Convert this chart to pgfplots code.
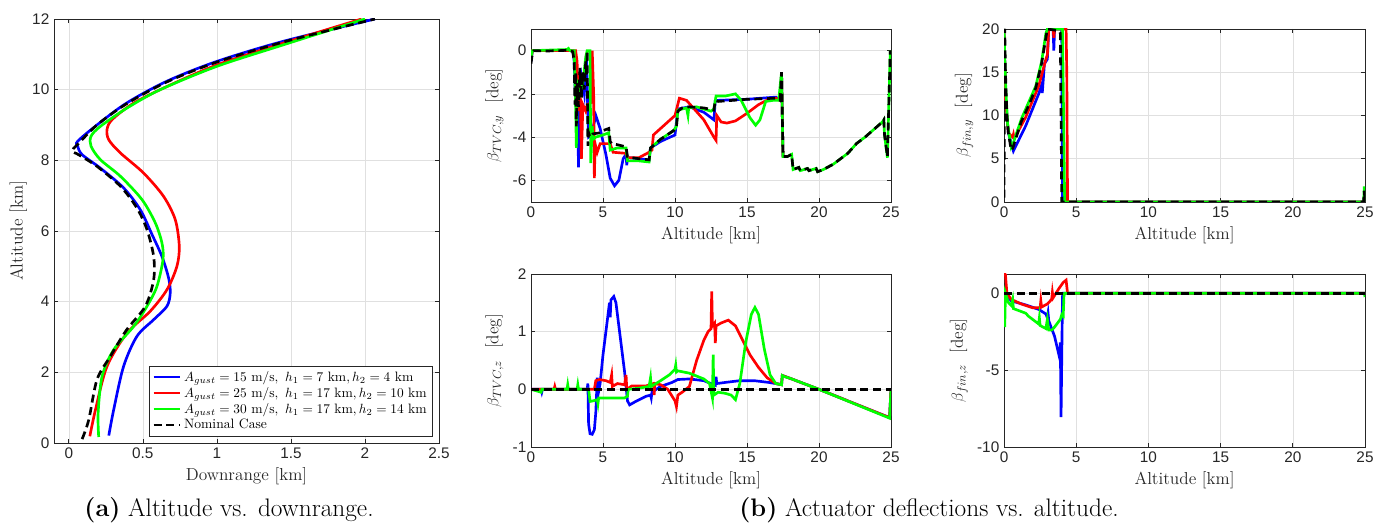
\documentclass[border=0pt]{standalone}
\usepackage{fontspec}
\usepackage{pgfplots}
\pgfplotsset{compat=1.18}
\newfontfamily\ticksf{Liberation Sans}
\definecolor{axgray}{gray}{0.15}
\definecolor{mblue}{RGB}{0,0,255}
\definecolor{mred}{RGB}{255,0,0}
\definecolor{mgreen}{RGB}{0,255,0}
\pgfplotsset{
  mstyle/.style={
    scale only axis,
    axis line style={axgray, line width=0.5pt},
    tick style={axgray, line width=0.5pt},
    major tick length=3pt,
    grid=major,
    major grid style={black!12, line width=0.4pt},
    tick label style={font=\ticksf\fontsize{11.5}{13}\selectfont, text=axgray},
    /pgf/number format/assume math mode=true,
    label style={font=\fontsize{13}{15}\selectfont, text=axgray},
  },
  bl/.style={mblue, line width=2pt},
  rd/.style={mred, line width=2pt},
  gr/.style={mgreen, line width=2pt},
  nm/.style={black, line width=2pt, dash pattern=on 6pt off 3.5pt},
}
\begin{document}
\begin{tikzpicture}
\useasboundingbox (0,0) rectangle (1387*0.75pt,530*0.75pt);

% ---------------- (a) ----------------
\begin{axis}[mstyle, at={(54*0.75pt,87*0.75pt)}, anchor=south west,
  width=385*0.75pt, height=424*0.75pt,
  xmin=-0.1, xmax=2.5, ymin=0, ymax=12,
  xtick={0,0.5,1,1.5,2,2.5}, ytick={0,2,...,12},
  xlabel={Downrange [km]}, ylabel={Altitude [km]},
  ylabel style={yshift=-3pt},
  legend style={at={(1,0)}, anchor=south east, xshift=-5pt, yshift=5pt,
    font=\fontsize{10.2}{12}\selectfont, draw=axgray, fill=white,
    cells={anchor=west}, inner sep=2pt, row sep=-1pt},
  legend image code/.code={\draw[#1] (0cm,0cm) -- (0.7cm,0cm);},
]
\addplot[bl, smooth] coordinates {
(0.27,0.21) (0.303,0.94) (0.37,2.17) (0.46,3.02) (0.573,3.49) (0.663,3.87) (0.685,4.25) (0.674,4.67) (0.629,5.28) (0.562,5.9) (0.483,6.6) (0.37,7.22) (0.213,7.78) (0.09,8.16) (0.06,8.4) (0.06,8.54) (0.19,9.0) (0.39,9.62) (0.663,10.24) (1.0,10.8) (1.45,11.37) (2.067,12)};
\addlegendentry{$A_{gust}=15~\mathrm{m/s},\ h_1=7~\mathrm{km}, h_2=4~\mathrm{km}$}
\addplot[rd, smooth] coordinates {
(0.142,0.19) (0.18,0.94) (0.258,2.17) (0.393,3.11) (0.55,3.73) (0.663,4.34) (0.73,5.0) (0.746,5.57) (0.719,6.32) (0.64,6.98) (0.505,7.64) (0.348,8.21) (0.27,8.58) (0.258,8.87) (0.292,9.15) (0.438,9.62) (0.663,10.09) (1.0,10.7) (1.45,11.32) (1.977,12)};
\addlegendentry{$A_{gust}=25~\mathrm{m/s},\ h_1=17~\mathrm{km}, h_2=10~\mathrm{km}$}
\addplot[gr, smooth] coordinates {
(0.202,0.17) (0.198,0.85) (0.225,1.89) (0.303,2.64) (0.438,3.3) (0.528,3.87) (0.595,4.43) (0.636,5.19) (0.629,5.66) (0.584,6.23) (0.494,6.89) (0.348,7.55) (0.213,8.02) (0.15,8.4) (0.15,8.68) (0.213,8.96) (0.393,9.48) (0.618,10.0) (1.0,10.66) (1.45,11.27) (2.0,12)};
\addlegendentry{$A_{gust}=30~\mathrm{m/s},\ h_1=17~\mathrm{km}, h_2=14~\mathrm{km}$}
\addplot[nm, smooth] coordinates {
(0.09,0.11) (0.135,0.66) (0.19,1.79) (0.28,2.45) (0.39,3.2) (0.517,3.87) (0.573,4.62) (0.573,5.28) (0.528,6.04) (0.46,6.65) (0.35,7.26) (0.19,7.83) (0.07,8.15) (0.022,8.27) (0.06,8.45) (0.19,9.0) (0.39,9.6) (0.663,10.22) (1.0,10.78) (1.45,11.35) (2.067,12)};
\addlegendentry{Nominal Case}
\end{axis}

% ---------------- TVC,y ----------------
\begin{axis}[mstyle, at={(531*0.75pt,328*0.75pt)}, anchor=south west,
  width=360*0.75pt, height=173*0.75pt,
  xmin=0, xmax=25, ymin=-7, ymax=1,
  xtick={0,5,...,25}, ytick={-6,-4,-2,0},
  xlabel={Altitude [km]}, ylabel={$\beta_{TVC,y}$\ \ [deg]},
]
\addplot[bl] coordinates {
(0,-0.5) (0.1,0) (2.9,0) (3.0,-0.5) (3.1,-2.5) (3.2,-1.5) (3.3,-5.4) (3.35,-2.0) (3.5,-1.2) (3.7,-2.0) (3.85,-0.2) (3.95,-3.0) (4.0,-4.0) (4.2,-3.9) (4.5,-3.0) (4.8,-3.6) (5.2,-4.8) (5.5,-5.9) (5.8,-6.25) (6.1,-6.0) (6.4,-5.0) (6.6,-4.8) (6.65,-5.3) (6.7,-4.95) (7.5,-5.0) (8.2,-5.05) (8.3,-4.5) (9,-4.2) (10,-3.9) (10.2,-2.7) (11,-2.6) (12,-2.85) (12.7,-3.2) (12.8,-2.3) (13,-2.3) (15,-2.25) (17,-2.15) (17.3,-2.3) (17.4,-1.0) (17.5,-4.9)};
\addplot[rd] coordinates {
(0,-0.4) (0.1,0) (3.1,0) (3.2,-0.5) (3.3,-2.8) (3.4,-1.0) (3.5,-5.0) (3.6,-2.5) (3.8,-2.8) (3.9,-2.5) (4.2,-2.4) (4.25,0) (4.35,-2.0) (4.4,-5.9) (4.45,-4.3) (4.6,-4.7) (4.8,-4.3) (5.5,-4.3) (5.7,-4.7) (6.6,-4.75) (6.7,-4.95) (7.5,-4.95) (8.2,-4.7) (8.4,-4.6) (8.5,-3.9) (9,-3.6) (10,-3.0) (10.3,-2.2) (10.8,-2.3) (11.2,-2.6) (12,-3.2) (12.7,-4.0) (12.85,-4.15) (12.9,-3.0) (13.2,-3.3) (13.6,-3.35) (14.2,-3.25) (15,-2.9) (15.8,-2.5) (16.5,-2.25) (17,-2.2) (17.3,-2.3) (17.4,-1.0) (17.5,-4.9)};
\addplot[gr] coordinates {
(0,-0.3) (0.1,0) (2.5,0.05) (2.6,0.1) (2.7,0) (3.0,0) (3.1,-2.7) (3.15,-4.5) (3.2,-1.5) (3.4,-2.0) (3.6,-1.5) (3.8,-0.3) (3.9,0) (4.1,0) (4.15,-5.2) (4.25,-3.5) (4.3,-4.1) (4.5,-4.0) (5.0,-3.9) (5.4,-3.8) (5.5,-4.6) (6,-4.5) (6.6,-4.5) (6.7,-5.1) (7.5,-5.1) (8.2,-5.15) (8.3,-4.5) (9,-4.1) (9.9,-3.7) (10.1,-3.5) (10.2,-2.75) (10.8,-2.65) (10.9,-3.0) (10.95,-2.65) (11.5,-2.6) (12.5,-2.8) (12.7,-2.7) (12.85,-2.1) (13.5,-2.1) (14.2,-2.0) (14.6,-2.3) (15.2,-3.1) (15.6,-3.45) (15.9,-3.2) (16.3,-2.35) (16.8,-2.3) (17.2,-2.3) (17.4,-1.0) (17.5,-4.9) (17.8,-4.9) (18.1,-4.8) (18.2,-5.5) (18.6,-5.4) (18.7,-5.55) (19.2,-5.45) (19.3,-5.55) (19.8,-5.45) (19.9,-5.6) (20.3,-5.5) (21,-5.25) (21.5,-5.0) (22,-4.75) (22.6,-4.3) (23.2,-4.0) (23.8,-3.65) (24.4,-3.3) (24.5,-3.2) (24.55,-3.9) (24.75,-4.95) (24.95,0)};
\addplot[nm] coordinates {
(0,-0.6) (0.1,-0.1) (0.2,0) (1,-0.02) (2,0) (2.6,0.02) (2.9,-0.05) (3.0,-0.5) (3.05,-2.5) (3.1,-1.0) (3.15,-3.5) (3.2,-1.5) (3.3,-2.6) (3.4,-0.8) (3.5,-2.2) (3.6,-1.0) (3.7,-1.8) (3.8,-0.5) (3.85,-1.2) (3.9,0) (3.95,-4.4) (4.0,-3.8) (4.1,-4.0) (4.3,-3.85) (4.8,-3.8) (5.0,-3.7) (5.4,-3.6) (5.5,-4.2) (5.6,-4.3) (6.0,-4.35) (6.6,-4.45) (6.7,-4.9) (7.0,-4.95) (7.5,-5.0) (8.2,-5.05) (8.3,-4.5) (9.0,-4.1) (9.9,-3.7) (10.1,-3.5) (10.2,-2.8) (10.5,-2.65) (11,-2.6) (12,-2.65) (12.7,-2.75) (12.8,-2.3) (13,-2.35) (15,-2.25) (17,-2.2) (17.3,-2.3) (17.4,-1.0) (17.5,-4.9) (17.8,-4.9) (18.1,-4.8) (18.2,-5.5) (18.6,-5.4) (18.7,-5.55) (19.2,-5.45) (19.3,-5.55) (19.8,-5.45) (19.9,-5.6) (20.3,-5.5) (21,-5.25) (21.5,-5.0) (22,-4.75) (22.6,-4.3) (23.2,-4.0) (23.8,-3.65) (24.4,-3.3) (24.5,-3.2) (24.55,-3.9) (24.75,-4.9) (24.95,0)};
\end{axis}

% ---------------- TVC,z ----------------
\begin{axis}[mstyle, at={(531*0.75pt,83*0.75pt)}, anchor=south west,
  width=360*0.75pt, height=173*0.75pt,
  xmin=0, xmax=25, ymin=-1, ymax=2,
  xtick={0,5,...,25}, ytick={-1,0,1,2},
  xlabel={Altitude [km]}, ylabel={$\beta_{TVC,z}$\ \ [deg]},
]
\addplot[bl] coordinates {
(0,0) (0.7,0) (0.75,-0.05) (0.8,0) (3.9,0) (3.95,0.1) (4.0,-0.6) (4.1,-0.77) (4.25,-0.78) (4.4,-0.7) (4.5,-0.4) (4.6,0.2) (4.65,-0.1) (4.8,0.1) (5.0,0.6) (5.3,1.2) (5.45,1.5) (5.5,1.25) (5.55,1.55) (5.75,1.61) (5.9,1.5) (6.2,0.9) (6.5,0.3) (6.7,-0.2) (6.85,-0.27) (7.2,-0.22) (8,-0.12) (8.3,-0.1) (8.35,-0.15) (8.4,-0.05) (9,0.05) (9.8,0.12) (10.2,0.17) (11,0.18) (12,0.15) (12.5,0.1) (12.8,0.07) (12.85,0.22) (12.9,0.1) (13.5,0.12) (14.5,0.15) (15.5,0.15) (16.5,0.12) (17,0.1) (17.4,0.08) (17.45,0.24) (18,0.19) (20,0) (24.9,-0.49) (25,0)};
\addplot[rd] coordinates {
(0,0) (1.6,0) (1.65,0.05) (1.7,0) (4.4,0) (4.5,0.15) (4.75,0.17) (5.2,0.15) (5.5,0.12) (5.6,0.25) (5.65,0.05) (6,0.1) (6.5,0.08) (6.6,0.25) (6.65,0) (7,0.06) (8,0.06) (8.5,0.1) (8.55,-0.1) (8.6,0.1) (9,0.08) (9.5,0.0) (10,-0.2) (10.1,-0.3) (10.2,-0.1) (10.5,-0.05) (11,0.05) (11.5,0.5) (12,0.85) (12.3,1.0) (12.5,1.05) (12.55,1.7) (12.6,1.1) (12.75,1.15) (12.8,0.8) (12.85,1.1) (13.2,1.15) (13.7,1.2) (14.2,1.1) (14.7,0.85) (15.2,0.6) (15.8,0.38) (16.4,0.2) (17,0.1) (17.4,0.08) (17.45,0.24) (18,0.19) (20,0) (24.9,-0.49) (25,0)};
\addplot[gr] coordinates {
(0,0) (0.7,-0.05) (0.75,0) (2.5,0) (2.55,0.08) (2.6,0) (3.2,0) (3.25,0.08) (3.3,0) (4.0,0) (4.1,-0.21) (4.3,-0.2) (4.6,-0.18) (4.65,-0.25) (4.7,-0.15) (5.5,-0.15) (6.5,-0.15) (6.7,-0.12) (6.75,0.0) (7.5,0.02) (8.2,0.05) (8.3,0.2) (8.35,0.05) (9,0.15) (9.6,0.25) (10,0.35) (10.05,0.42) (10.1,0.3) (10.2,0.32) (11,0.28) (12,0.18) (12.4,0.1) (12.6,-0.15) (12.65,0.6) (12.7,-0.1) (13,-0.05) (13.5,-0.07) (13.9,-0.1) (14.2,-0.18) (14.5,0.1) (14.9,0.8) (15.3,1.3) (15.55,1.42) (15.8,1.3) (16.2,0.7) (16.6,0.25) (17.0,0.1) (17.4,0.08) (17.45,0.24) (17.6,0.22) (18,0.19) (20,0) (24.9,-0.5) (25,0)};
\addplot[nm] coordinates {(0,0) (25,0)};
\end{axis}

% ---------------- fin,y ----------------
\begin{axis}[mstyle, at={(1004*0.75pt,328*0.75pt)}, anchor=south west,
  width=361*0.75pt, height=173*0.75pt,
  xmin=0, xmax=25, ymin=0, ymax=20,
  xtick={0,5,...,25}, ytick={0,5,...,20},
  xlabel={Altitude [km]}, ylabel={$\beta_{fin,y}$\ \ [deg]},
]
\addplot[bl] coordinates {
(0,20) (0.1,12) (0.3,8) (0.65,5.9) (1.5,8.8) (2.4,12.5) (2.6,13.5) (2.65,12.6) (2.8,16) (3.0,16.5) (3.1,20) (3.4,20) (3.45,17.5) (3.5,20) (4.0,20) (4.05,0) (25,0)};
\addplot[rd] coordinates {
(0,20) (0.1,12) (0.3,8) (0.6,7.5) (0.65,7.8) (0.7,7.3) (1.5,9.8) (2.4,13.4) (2.9,16.5) (3.0,17) (3.1,20) (3.4,20) (3.45,19) (3.5,20) (4.3,20) (4.35,14.5) (4.4,0) (25,0)};
\addplot[gr] coordinates {
(0,20) (0.1,14) (0.25,9) (0.5,6.3) (0.6,6.6) (1.2,9.6) (2.2,13.4) (2.6,16.2) (2.9,19.5) (3.0,20) (4.05,20) (4.2,0) (24.9,0) (24.95,1.8) (25,0)};
\addplot[nm] coordinates {
(0,0.5) (0.05,20) (0.1,15) (0.2,10) (0.3,8) (0.5,6) (0.6,6.2) (1.2,9.3) (1.8,11.5) (2.2,13.2) (2.6,16) (2.8,18) (3.0,20) (3.8,19.8) (3.9,19.5) (4.0,0) (24.9,0) (24.95,1.3) (25,0)};
\end{axis}

% ---------------- fin,z ----------------
\begin{axis}[mstyle, at={(1004*0.75pt,83*0.75pt)}, anchor=south west,
  width=361*0.75pt, height=173*0.75pt,
  xmin=0, xmax=25, ymin=-10, ymax=1.25,
  xtick={0,5,...,25}, ytick={-10,-5,0},
  xlabel={Altitude [km]}, ylabel={$\beta_{fin,z}$\ \ [deg]},
]
\addplot[bl] coordinates {
(0,0.3) (0.1,0.2) (0.2,-0.2) (0.5,-0.5) (1.5,-0.76) (2.4,-1.05) (2.9,-1.35) (3.0,-1.6) (3.05,-1.3) (3.1,-1.8) (3.5,-2.8) (3.85,-4.2) (3.9,-3.2) (3.95,-8.05) (4.05,-0.2) (4.1,0) (25,0)};
\addplot[rd] coordinates {
(0,1.3) (0.1,1.2) (0.2,0) (0.5,-0.4) (1.2,-0.7) (2.0,-0.95) (2.5,-0.95) (2.55,-0.5) (2.6,-0.9) (3.0,-0.7) (3.3,-0.4) (3.35,0.05) (3.4,-0.3) (3.8,0.3) (4.1,0.7) (4.3,0.85) (4.4,0) (25,0)};
\addplot[gr] coordinates {
(0,0) (0.05,-2.2) (0.1,0) (0.3,-0.6) (0.5,-0.8) (0.6,-0.4) (0.65,-1.0) (1.5,-1.3) (1.7,-1.5) (2.4,-2.0) (2.45,-1.6) (2.5,-2.1) (2.9,-2.3) (3.0,-1.7) (3.1,-2.4) (3.3,-2.4) (3.5,-2.2) (3.9,-1.7) (4.0,-1.4) (4.1,-1.5) (4.15,-0.2) (4.2,0) (24.95,0) (25,-0.25)};
\addplot[nm] coordinates {(0,0) (25,0)};
\end{axis}

\node[font=\fontsize{19}{22}\selectfont] at (229*0.75pt,20*0.75pt) {\textbf{(a)} Altitude vs. downrange.};
\node[font=\fontsize{19}{22}\selectfont] at (929*0.75pt,20*0.75pt) {\textbf{(b)} Actuator deflections vs. altitude.};
\end{tikzpicture}
\end{document}
